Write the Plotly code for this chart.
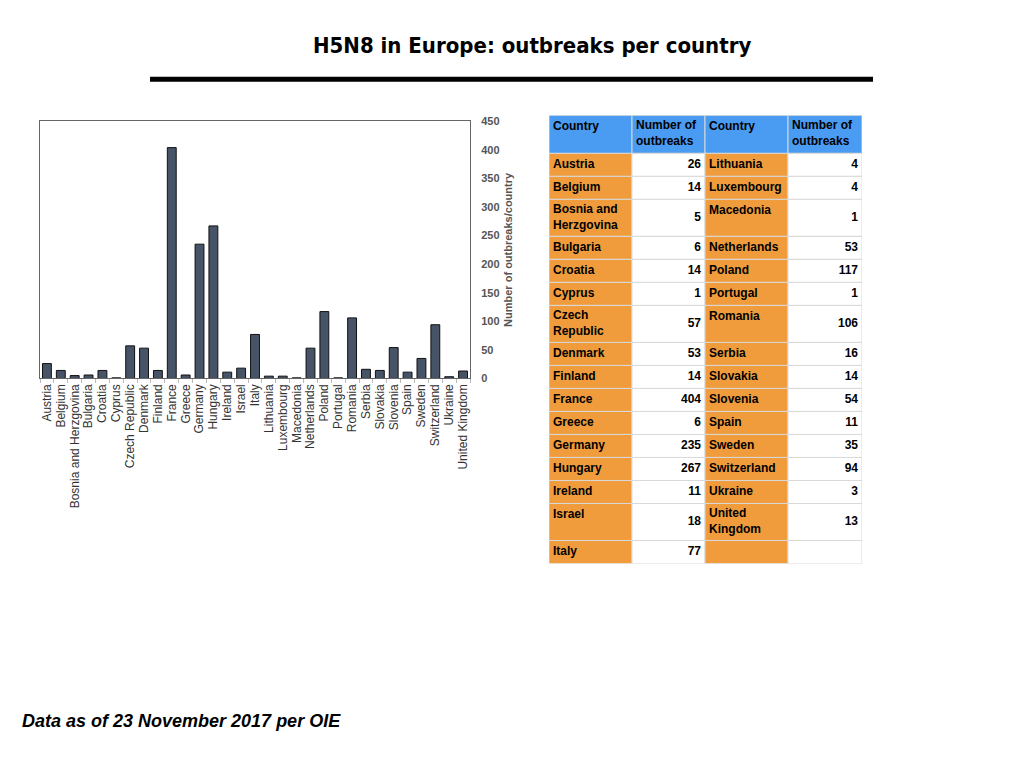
import plotly.graph_objects as go

COUNTRIES = [
    "Austria", "Belgium", "Bosnia and Herzgovina", "Bulgaria", "Croatia", "Cyprus",
    "Czech Republic", "Denmark", "Finland", "France", "Greece", "Germany", "Hungary",
    "Ireland", "Israel", "Italy", "Lithuania", "Luxembourg", "Macedonia", "Netherlands",
    "Poland", "Portugal", "Romania", "Serbia", "Slovakia", "Slovenia", "Spain",
    "Sweden", "Switzerland", "Ukraine", "United Kingdom",
]
OUTBREAKS = [
    26, 14, 5, 6, 14, 1,
    57, 53, 14, 404, 6, 235, 267,
    11, 18, 77, 4, 4, 1, 53,
    117, 1, 106, 16, 14, 54, 11,
    35, 94, 3, 13,
]
# names that wrap onto two lines in the table
TABLE_NAMES = {
    "Bosnia and Herzgovina": "Bosnia and<br>Herzgovina",
    "Czech Republic": "Czech<br>Republic",
    "United Kingdom": "United<br>Kingdom",
}
HEADERS = ["Country", "Number of<br>outbreaks", "Country", "Number of<br>outbreaks"]
Y_TICKS = [0, 50, 100, 150, 200, 250, 300, 350, 400, 450]

W, H = 1024, 768
BLUE = "#4A9BF2"
ORANGE = "#F09C3C"
BAR = "#475468"
GRID = "#D9D9D9"
FONT = "Liberation Sans"

# table geometry in pixels
COL_W = [83, 73, 83, 74]
HEADER_H = 38
ROW_H = 23
LINE_H = 14
PAD = 4

# the page renders slightly offset / squeezed; map reference pixels to paper
OFF_X, OFF_Y, SCALE_Y = 8.0, 13.7, 0.984


def px_x(p):
    return (p - OFF_X) / W


def px_y(p):
    return 1 - (p - OFF_Y) / (SCALE_Y * H)


def n_lines(s):
    return s.count("<br>") + 1


def main() -> None:
    fig = go.Figure()

    fig.add_trace(
        go.Bar(
            x=COUNTRIES,
            y=OUTBREAKS,
            marker=dict(color=BAR, line=dict(color="#111111", width=1)),
            showlegend=False,
            hovertemplate="%{x}: %{y}<extra></extra>",
        )
    )

    # ---- table, drawn on its own pixel-like axes ----
    half = (len(COUNTRIES) + 1) // 2
    left_c = [TABLE_NAMES.get(c, c) for c in COUNTRIES[:half]]
    left_v = [str(v) for v in OUTBREAKS[:half]]
    right_c = [TABLE_NAMES.get(c, c) for c in COUNTRIES[half:]] + [""]
    right_v = [str(v) for v in OUTBREAKS[half:]] + [""]
    columns = [left_c, left_v, right_c, right_v]

    col_x = [0]
    for w in COL_W:
        col_x.append(col_x[-1] + w)

    row_h = [HEADER_H]
    for a, b in zip(left_c, right_c):
        row_h.append(ROW_H + LINE_H * (max(n_lines(a), n_lines(b)) - 1))
    row_y = [0]
    for h in row_h:
        row_y.append(row_y[-1] + h)
    total_h = row_y[-1]
    total_w = col_x[-1]

    for r in range(len(row_h)):
        for c in range(4):
            if r == 0:
                fill = BLUE
            elif c % 2 == 0:
                fill = ORANGE
            else:
                fill = "white"
            fig.add_shape(
                type="rect", xref="x2", yref="y2", layer="below",
                x0=col_x[c], x1=col_x[c + 1], y0=row_y[r], y1=row_y[r + 1],
                fillcolor=fill, line=dict(color=GRID, width=1),
            )

    lx, ly, lt = [], [], []
    rx, ry, rt = [], [], []
    for c in range(4):
        cells = [HEADERS[c]] + columns[c]
        for r, txt in enumerate(cells):
            if not txt:
                continue
            top = row_y[r]
            if r == 0 or c % 2 == 0:
                lx.append(col_x[c] + PAD)
                ly.append(top + 11.5 + (n_lines(txt) - 1) * LINE_H / 2)
                lt.append(f"<b>{txt}</b>")
            else:
                rx.append(col_x[c + 1] - PAD)
                ry.append(top + row_h[r] / 2)
                rt.append(f"<b>{txt}</b>")

    tfont = dict(family=FONT, size=12, color="#000000")
    fig.add_trace(go.Scatter(
        x=lx, y=ly, text=lt, mode="text", textposition="middle right",
        textfont=tfont, xaxis="x2", yaxis="y2", showlegend=False,
        hoverinfo="skip", cliponaxis=False,
    ))
    fig.add_trace(go.Scatter(
        x=rx, y=ry, text=rt, mode="text", textposition="middle left",
        textfont=tfont, xaxis="x2", yaxis="y2", showlegend=False,
        hoverinfo="skip", cliponaxis=False,
    ))

    fig.update_layout(
        width=W,
        height=H,
        autosize=False,
        margin=dict(l=0, r=0, t=0, b=0),
        paper_bgcolor="white",
        plot_bgcolor="white",
        font=dict(family=FONT, color="#333333"),
        bargap=0.36,
        xaxis=dict(
            domain=[px_x(40), px_x(470)],
            showline=True,
            mirror=True,
            linecolor="#666666",
            linewidth=1,
            tickmode="array",
            tickvals=COUNTRIES,
            ticktext=COUNTRIES,
            tickangle=-90,
            tickfont=dict(size=12, color="#333333"),
            ticks="outside",
            tickson="boundaries",
            ticklen=4,
            tickcolor="#BBBBBB",
            showgrid=False,
        ),
        yaxis=dict(
            domain=[px_y(378), px_y(121)],
            range=[0, 450],
            tickvals=Y_TICKS,
            side="right",
            showline=True,
            mirror=True,
            linecolor="#666666",
            linewidth=1,
            showgrid=False,
            zeroline=False,
            ticks="",
            ticklabelstandoff=8,
            tickfont=dict(size=11, color="#555555", weight="bold"),
            title=dict(
                text="Number of outbreaks/country",
                font=dict(size=11, color="#555555", weight="bold"),
                standoff=5,
            ),
        ),
        xaxis2=dict(
            domain=[px_x(549), px_x(549 + total_w)],
            range=[0, total_w],
            anchor="y2",
            visible=False,
        ),
        yaxis2=dict(
            domain=[px_y(115 + total_h), px_y(115)],
            range=[total_h, 0],
            anchor="x2",
            visible=False,
        ),
    )

    fig.add_annotation(
        x=px_x(532), y=px_y(45), xref="paper", yref="paper",
        text="<b>H5N8 in Europe: outbreaks per country</b>",
        showarrow=False,
        font=dict(family="DejaVu Sans Condensed, Liberation Sans", size=22, color="#000000"),
        xanchor="center", yanchor="middle",
    )
    fig.add_shape(
        type="line", xref="paper", yref="paper",
        x0=px_x(150), x1=px_x(873), y0=px_y(79), y1=px_y(79),
        line=dict(color="#000000", width=5),
    )
    fig.add_annotation(
        x=px_x(20), y=px_y(720), xref="paper", yref="paper",
        text="<b><i>Data as of 23 November 2017 per OIE</i></b>",
        showarrow=False,
        font=dict(family=FONT, size=18, color="#000000"),
        xanchor="left", yanchor="middle",
    )

    fig.write_html("out.html")


if __name__ == "__main__":
    main()
